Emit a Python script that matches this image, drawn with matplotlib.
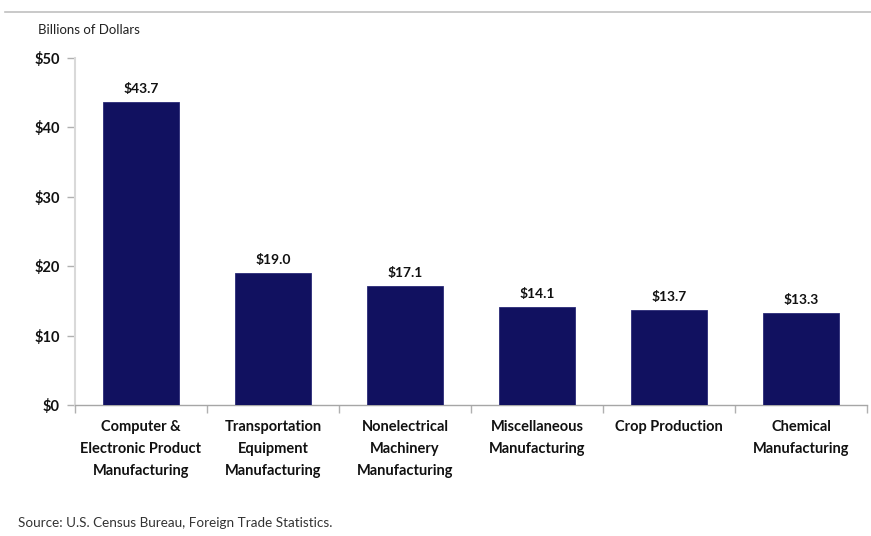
import matplotlib.pyplot as plt
from matplotlib.lines import Line2D

categories = ['Computer &\nElectronic Product\nManufacturing',
              'Transportation\nEquipment\nManufacturing',
              'Nonelectrical\nMachinery\nManufacturing',
              'Miscellaneous\nManufacturing',
              'Crop Production',
              'Chemical\nManufacturing']
values = [43.7, 19.0, 17.1, 14.1, 13.7, 13.3]
yticks = [0, 10, 20, 30, 40, 50]
ytick_labels = ['$0', '$10', '$20', '$30', '$40', '$50']

plt.rcParams['font.family'] = ['Lato', 'DejaVu Sans']

fig = plt.figure(figsize=(8.71, 5.36), dpi=100)
ax = fig.add_axes([75 / 871, 1 - 405 / 536, 792 / 871, 347 / 536])

x = range(len(categories))
ax.bar(x, values, width=0.58, color='#111160', edgecolor='#2a2a78', linewidth=0.6, zorder=3)

# 数值标签
for i, v in enumerate(values):
    ax.text(i, v + 1.0, '${:.1f}'.format(v), ha='center', va='bottom',
            fontsize=10, fontweight='bold', color='#111111')

ax.set_xlim(-0.5, len(categories) - 0.5)
ax.set_ylim(0, 50)
ax.set_yticks(yticks)
ax.set_yticklabels(ytick_labels, fontsize=10.5, fontweight='bold', color='#111111')

# x轴刻度在分类之间
ax.set_xticks([i - 0.5 for i in range(len(categories) + 1)])
ax.set_xticklabels([])
ax.tick_params(axis='x', length=6, color='#b0b0b0', width=1)
ax.tick_params(axis='y', length=6, color='#b0b0b0', width=1, pad=5)

for i, c in enumerate(categories):
    ax.text(i, -2.2, c, ha='center', va='top', fontsize=10.5, fontweight='bold',
            color='#111111', linespacing=1.7)

for s in ['top', 'right']:
    ax.spines[s].set_visible(False)
ax.spines['left'].set_color('#d9d9d9')
ax.spines['left'].set_linewidth(1.5)
ax.spines['bottom'].set_color('#a6a6a6')
ax.spines['bottom'].set_linewidth(1)

fig.text(38 / 871, 1 - 30 / 536, 'Billions of Dollars', fontsize=9.5, va='center', color='#222222')
fig.text(18 / 871, 1 - 523 / 536, 'Source: U.S. Census Bureau, Foreign Trade Statistics.',
         fontsize=9.7, va='center', color='#333333')

# 顶部分隔线
fig.add_artist(Line2D([5 / 871, 1], [1 - 12 / 536, 1 - 12 / 536], color='#c0c0c0', linewidth=1.2))

fig.savefig('out.png', dpi=100)
